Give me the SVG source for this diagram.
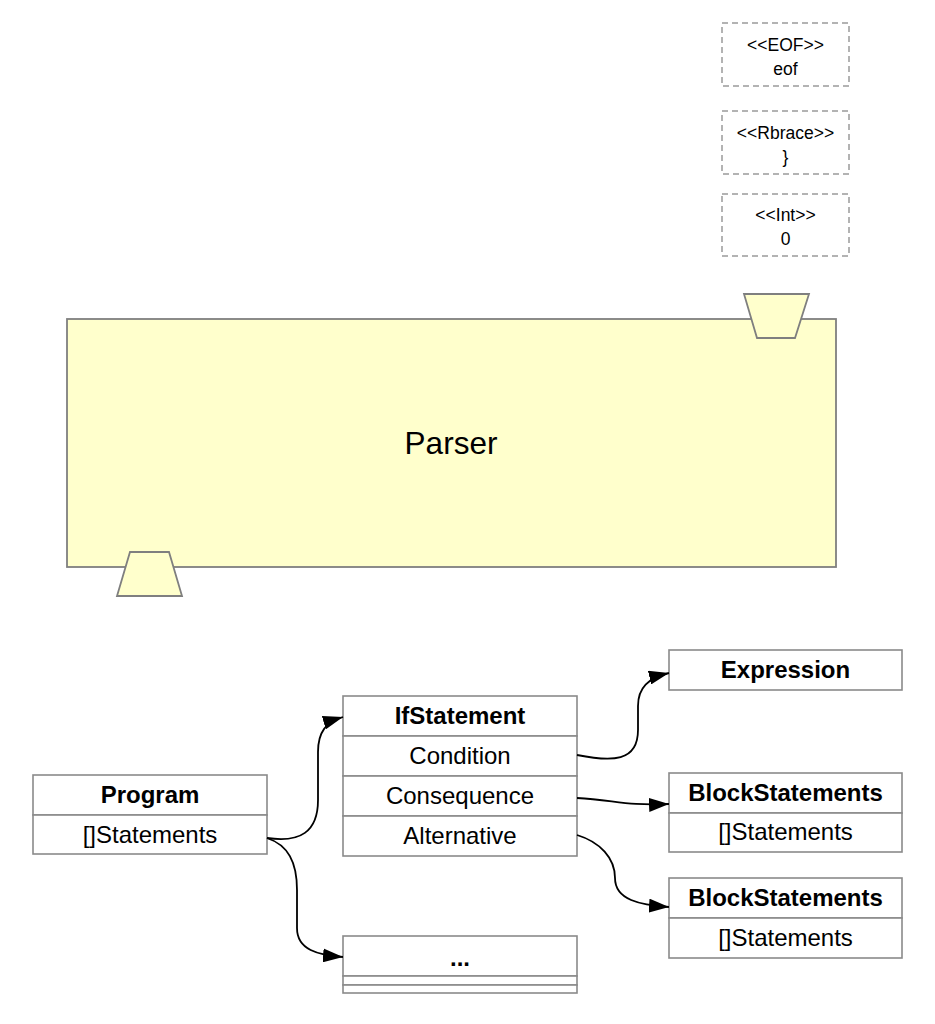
<svg xmlns="http://www.w3.org/2000/svg" width="935" height="1024" viewBox="0 0 935 1024">
<defs>
<style>
.box{fill:#ffffff;stroke:#8a8a8a;stroke-width:1.6}
.tok{fill:#ffffff;stroke:#9a9a9a;stroke-width:1.5;stroke-dasharray:6 4}
.yel{fill:#ffffcc;stroke:#7f7f7f;stroke-width:1.8}
.t{font-family:"Liberation Sans",Arial,sans-serif;font-size:24px;fill:#000;text-anchor:middle}
.b{font-weight:bold}
.s{font-family:"Liberation Sans",Arial,sans-serif;font-size:17.5px;fill:#000;text-anchor:middle}
.p{font-family:"Liberation Sans",Arial,sans-serif;font-size:31.5px;fill:#000;text-anchor:middle}
.c{fill:none;stroke:#000;stroke-width:1.8}
</style>
<marker id="ah" viewBox="0 0 20 14" refX="20" refY="7" markerWidth="20" markerHeight="14" markerUnits="userSpaceOnUse" orient="auto">
<path d="M0,0 L20,7 L0,14 z" fill="#000"/>
</marker>
</defs>
<rect width="935" height="1024" fill="#ffffff"/>

<g id="tok-eof">
<rect class="tok" x="722" y="23" width="127" height="63"/>
<text class="s" x="785.5" y="51">&lt;&lt;EOF&gt;&gt;</text>
<text class="s" x="785.5" y="75">eof</text>
</g>
<g id="tok-rbrace">
<rect class="tok" x="722" y="111" width="127" height="63"/>
<text class="s" x="785.5" y="139">&lt;&lt;Rbrace&gt;&gt;</text>
<text class="s" x="785.5" y="163">}</text>
</g>
<g id="tok-int">
<rect class="tok" x="722" y="194" width="127" height="62"/>
<text class="s" x="785.5" y="221">&lt;&lt;Int&gt;&gt;</text>
<text class="s" x="785.5" y="245">0</text>
</g>

<g id="parser">
<rect class="yel" x="67" y="319" width="769" height="248"/>
<polygon class="yel" points="744,294 809,294 795,338 757,338"/>
<polygon class="yel" points="130,552 169,552 182,596 117,596"/>
<text class="p" x="451" y="454">Parser</text>
</g>

<g id="program">
<rect class="box" x="33" y="775" width="234" height="40"/>
<rect class="box" x="33" y="815" width="234" height="39"/>
<text class="t b" x="150" y="803">Program</text>
<text class="t" x="150" y="843">[]Statements</text>
</g>

<g id="ifstatement">
<rect class="box" x="343" y="696" width="234" height="40"/>
<rect class="box" x="343" y="736" width="234" height="40"/>
<rect class="box" x="343" y="776" width="234" height="40"/>
<rect class="box" x="343" y="816" width="234" height="40"/>
<text class="t b" x="460" y="724">IfStatement</text>
<text class="t" x="460" y="764">Condition</text>
<text class="t" x="460" y="804">Consequence</text>
<text class="t" x="460" y="844">Alternative</text>
</g>

<g id="ellipsis">
<rect class="box" x="343" y="936" width="234" height="40"/>
<rect class="box" x="343" y="976" width="234" height="9"/>
<rect class="box" x="343" y="985" width="234" height="8"/>
<text class="t b" x="460" y="966">...</text>
</g>

<g id="expression">
<rect class="box" x="669" y="650" width="233" height="40"/>
<text class="t b" x="785.5" y="678">Expression</text>
</g>

<g id="block1">
<rect class="box" x="669" y="773" width="233" height="40"/>
<rect class="box" x="669" y="813" width="233" height="39"/>
<text class="t b" x="785.5" y="801">BlockStatements</text>
<text class="t" x="785.5" y="840">[]Statements</text>
</g>

<g id="block2">
<rect class="box" x="669" y="878" width="233" height="40"/>
<rect class="box" x="669" y="918" width="233" height="40"/>
<text class="t b" x="785.5" y="906">BlockStatements</text>
<text class="t" x="785.5" y="946">[]Statements</text>
</g>

<g id="connectors">
<path class="c" marker-end="url(#ah)" d="M267,838 C300,843 318,832 318,800 L318,752 C318,732 326,722 343,717"/>
<path class="c" marker-end="url(#ah)" d="M267,838 C288,845 297,862 297,890 L297,928 C297,950 318,955 343,957"/>
<path class="c" marker-end="url(#ah)" d="M577,755 C612,762 638,762 638,730 L638,706 C638,688 648,678 669,673"/>
<path class="c" marker-end="url(#ah)" d="M577,798 C615,800 625,806 669,804"/>
<path class="c" marker-end="url(#ah)" d="M577,835 C600,842 615,858 615,878 C615,900 640,905 669,907"/>
</g>
</svg>
